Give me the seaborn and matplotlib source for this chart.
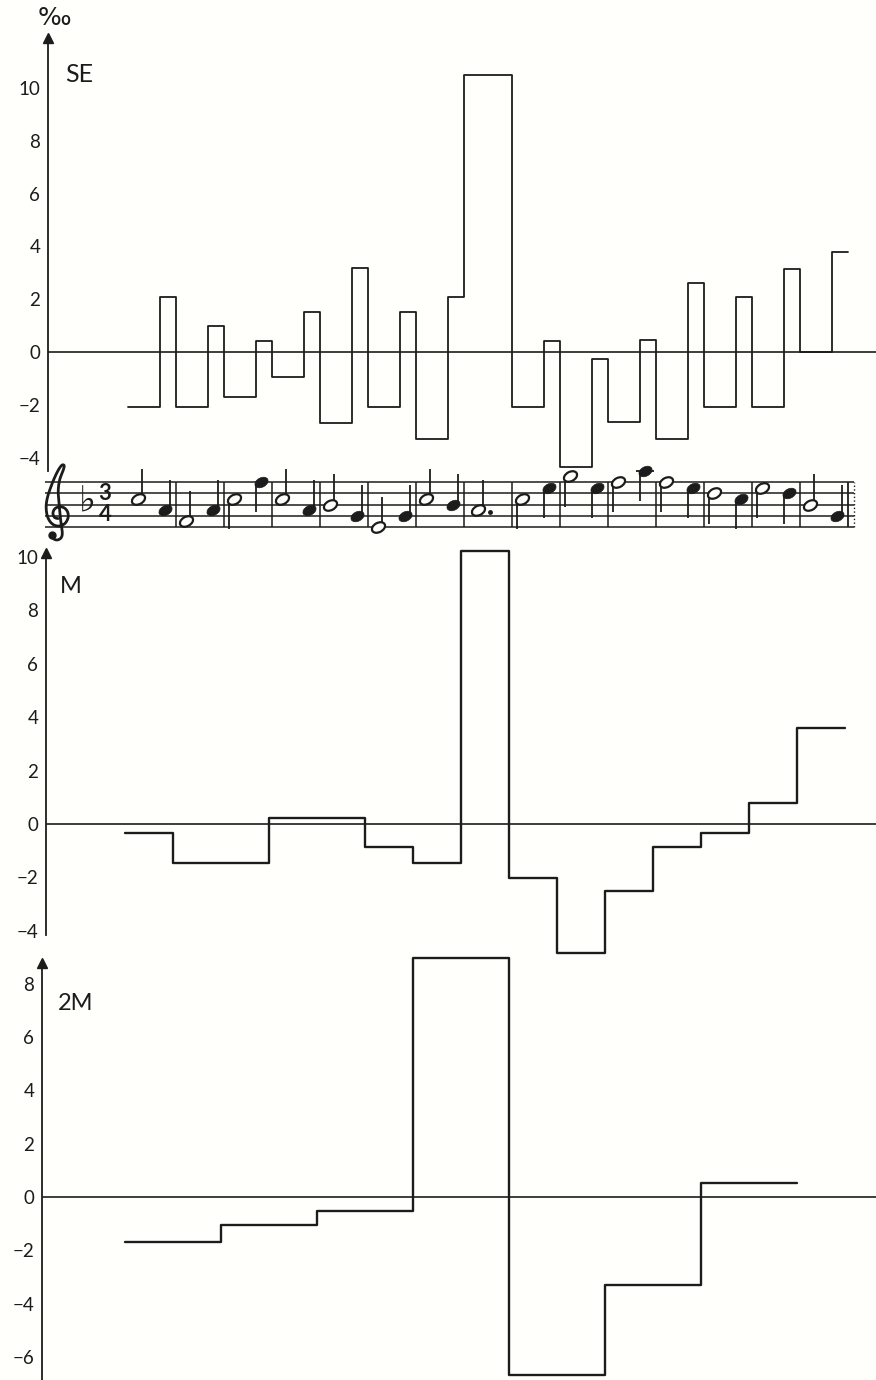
import numpy as np
import pandas as pd
import matplotlib
matplotlib.use("Agg")
import matplotlib.pyplot as plt
import seaborn as sns
from matplotlib.path import Path
from matplotlib.transforms import Affine2D

# Mélodie (3/4, un bémol) : pas de portée 0 = Mi4 (ligne du bas), durées en temps
NOTE_STEPS = [5, 3, 1, 3, 5, 8, 5, 3, 4, 2, 0, 2, 5, 4, 3,
              5, 7, 9, 7, 8, 10, 8, 7, 6, 5, 7, 6, 4, 2]
NOTE_BEATS = [2, 1, 2, 1, 2, 1, 2, 1, 2, 1, 2, 1, 2, 1, 3,
              2, 1, 2, 1, 2, 1, 2, 1, 2, 1, 2, 1, 2, 1]
STEM_UP = [1, 1, 1, 1, 0, 0, 1, 1, 1, 1, 1, 1, 1, 1, 1,
           0, 0, 0, 0, 0, 0, 0, 0, 0, 0, 0, 0, 1, 1]

# Valeurs en pour mille
SE_VALUES = [-2.1, 2.1, -2.1, 1.0, -1.7, 0.4, -0.95, 1.5, -2.7, 3.2, -2.1, 1.5, -3.3, 2.1,
             10.5, -2.1, 0.4, -4.35, -0.25, -2.65, 0.45, -3.3, 2.6, -2.1, 2.1, -2.1, 3.15, 0.0, 3.8]
M_VALUES = [-0.35, -1.45, -1.45, 0.22, 0.22, -0.85, -1.45, 10.22,
            -2.02, -4.83, -2.5, -0.85, -0.35, 0.8, 3.6]
M2_VALUES = [-1.7, -1.05, -0.53, 8.97, -6.68, -3.3, 0.53]

SE_TICKS = [-4, -2, 0, 2, 4, 6, 8, 10]
M_TICKS = [-4, -2, 0, 2, 4, 6, 8, 10]
M2_TICKS = [-6, -4, -2, 0, 2, 4, 6, 8]
BEATS_PER_BAR = 3

# clé de sol (aucune police installée n'a le glyphe) : tracé en interlignes, 0 = ligne de sol
CLEF_X = [-0.55, -0.4, -0.05, 0.28, 0.38, 0.25, 0.1, 0.02, 0.15, 0.45, 0.55, 0.35, 0.05,
          -0.3, -0.62, -0.92, -1.05, -0.98, -0.72, -0.3, 0.2, 0.65, 0.9, 0.85, 0.55,
          0.1, -0.3, -0.45, -0.3, 0.0]
CLEF_Y = [-1.75, -2.05, -2.15, -1.95, -1.5, -0.5, 1.0, 2.2, 3.2, 4.0, 4.45, 4.5, 4.1,
          3.4, 2.6, 1.7, 0.9, 0.1, -0.5, -0.85, -0.9, -0.65, -0.15, 0.35, 0.7,
          0.8, 0.6, 0.2, -0.15, -0.25]

INK = "#1c1c1c"
PAPER = "#fffffb"
W, H = 876, 1380

sns.set_theme(style="white")
plt.rcParams["font.family"] = ["Lato", "DejaVu Sans"]

fig = plt.figure(figsize=(W / 100, H / 100), dpi=100, facecolor=PAPER)


def px_axes(left, top, right, bottom):
    ax = fig.add_axes([left / W, 1 - bottom / H, (right - left) / W, (bottom - top) / H])
    ax.set_facecolor("none")
    return ax


def fig_text(x, y, s, **kw):
    fig.text(x / W, 1 - y / H, s, color=INK, **kw)


def smooth(px, py, n=8):
    # spline de Catmull-Rom pour adoucir le tracé de la clé
    p = np.column_stack([px, py])
    p = np.vstack([p[0], p, p[-1]])
    t = np.linspace(0, 1, n, endpoint=False)[:, None]
    out = []
    for i in range(1, len(p) - 2):
        p0, p1, p2, p3 = p[i - 1], p[i], p[i + 1], p[i + 2]
        out.append(0.5 * ((2 * p1) + (-p0 + p2) * t + (2 * p0 - 5 * p1 + 4 * p2 - p3) * t ** 2
                          + (-p0 + 3 * p1 - 3 * p2 + p3) * t ** 3))
    out.append(p[-2][None, :])
    out = np.vstack(out)
    return out[:, 0], out[:, 1]


def style_panel(ax, ticks):
    for side in ["top", "right", "bottom"]:
        ax.spines[side].set_visible(False)
    ax.spines["left"].set_color(INK)
    ax.spines["left"].set_linewidth(1.3)
    ax.set_xticks([])
    ax.set_yticks(ticks)
    ax.set_yticklabels([str(t).replace("-", "\u2212") for t in ticks])
    ax.tick_params(axis="y", direction="inout", length=9, width=1.2, pad=1,
                   labelsize=13.5, colors=INK)
    ax.axhline(0, color=INK, lw=1.2, zorder=1)
    ax.plot([0], [1], marker="^", ms=7, color=INK, transform=ax.transAxes, clip_on=False)
    ax.set_xlabel("")
    ax.set_ylabel("")


# --- SE : une marche par note ---
note_starts = np.concatenate([[0], np.cumsum(NOTE_BEATS)[:-1]])
se_df = pd.DataFrame({"x": list(note_starts) + [sum(NOTE_BEATS)],
                      "y": SE_VALUES + [SE_VALUES[-1]]})
ax_se = px_axes(48, 38, W, 471)
sns.lineplot(data=se_df, x="x", y="y", drawstyle="steps-post", estimator=None, sort=False,
             color=INK, lw=1.3, ax=ax_se, clip_on=False)
ax_se.set_xlim((48 - 128) / 16, (W - 128) / 16)
ax_se.set_ylim((352 - 471) / 26.4, (352 - 38) / 26.4)
style_panel(ax_se, SE_TICKS)

# --- M : une marche par mesure ---
bar_starts = np.arange(len(M_VALUES)) * BEATS_PER_BAR
m_df = pd.DataFrame({"x": list(bar_starts) + [len(M_VALUES) * BEATS_PER_BAR],
                     "y": M_VALUES + [M_VALUES[-1]]})
ax_m = px_axes(46, 553, W, 935)
sns.lineplot(data=m_df, x="x", y="y", drawstyle="steps-post", estimator=None, sort=False,
             color=INK, lw=1.7, ax=ax_m, clip_on=False)
ax_m.set_xlim((46 - 125) / 16, (W - 125) / 16)
ax_m.set_ylim((824 - 935) / 26.7, (824 - 553) / 26.7)
style_panel(ax_m, M_TICKS)

# --- 2M : une marche par paire de mesures ---
pair_starts = np.arange(len(M2_VALUES)) * 2 * BEATS_PER_BAR
m2_df = pd.DataFrame({"x": list(pair_starts) + [len(M2_VALUES) * 2 * BEATS_PER_BAR],
                      "y": M2_VALUES + [M2_VALUES[-1]]})
ax_2m = px_axes(42, 963, W, H)
sns.lineplot(data=m2_df, x="x", y="y", drawstyle="steps-post", estimator=None, sort=False,
             color=INK, lw=1.7, ax=ax_2m, clip_on=False)
ax_2m.set_xlim((42 - 125) / 16, (W - 125) / 16)
ax_2m.set_ylim((1197 - H) / 26.64, (1197 - 963) / 26.64)
style_panel(ax_2m, M2_TICKS)

# --- portée ---
ax_st = px_axes(40, 460, W, 548)
ax_st.set_xlim((40 - 128) / 16, (W - 128) / 16)
ax_st.set_ylim((527 - 548) / 5.625, (527 - 460) / 5.625)
ax_st.axis("off")

total = sum(NOTE_BEATS)
ax_st.hlines([0, 2, 4, 6, 8], (45 - 128) / 16, total + 0.4, color=INK, lw=1.1)
bar_lines = np.arange(BEATS_PER_BAR, total, BEATS_PER_BAR)
ax_st.vlines(bar_lines, 0, 8, color=INK, lw=1.1)
ax_st.vlines([total], 0, 8, color=INK, lw=1.3)
ax_st.vlines([total + 0.35], 0, 8, color=INK, lw=1.0, linestyles=":")

head_x = note_starts + 0.3 * np.array(NOTE_BEATS)
steps = np.array(NOTE_STEPS)
is_open = np.array(NOTE_BEATS) >= 2
head = Path.unit_circle().transformed(Affine2D().scale(1.35, 0.9).rotate_deg(28))

notes = pd.DataFrame({"x": head_x, "y": steps, "open": is_open})
sns.scatterplot(data=notes[notes.open], x="x", y="y", marker=head, s=95, color=PAPER,
                edgecolor=INK, linewidth=1.6, ax=ax_st, zorder=4, legend=False)
sns.scatterplot(data=notes[~notes.open], x="x", y="y", marker=head, s=95, color=INK,
                edgecolor=INK, linewidth=0.5, ax=ax_st, zorder=4, legend=False)

up = np.array(STEM_UP) == 1
ax_st.vlines(head_x[up] + 0.3, steps[up] + 0.2, steps[up] + 5.4, color=INK, lw=1.3, zorder=3)
ax_st.vlines(head_x[~up] - 0.3, steps[~up] - 0.2, steps[~up] - 5.4, color=INK, lw=1.3, zorder=3)

# point de la blanche pointée et ligne supplémentaire du La aigu
dotted = np.array(NOTE_BEATS) == 3
ax_st.plot(head_x[dotted] + 0.7, steps[dotted] - 0.3, "o", ms=2.5, color=INK)
ledger = steps >= 10
ax_st.hlines(steps[ledger], head_x[ledger] - 0.55, head_x[ledger] + 0.55, color=INK, lw=1.3)

# clé de sol, armure et chiffrage
clef_cx = (58 - 128) / 16
cx, cy = smooth(CLEF_X, CLEF_Y)
ax_st.plot(clef_cx + cx * 11.25 / 16, 2 + 2 * cy, color=INK, lw=2.0, solid_capstyle="round")
ax_st.plot([clef_cx + CLEF_X[0] * 11.25 / 16], [2 + 2 * CLEF_Y[0]], "o", ms=5, color=INK)

ax_st.text((87 - 128) / 16, 4.6, "\u266D", fontsize=26, ha="center", va="center",
           color=INK, family=["DejaVu Sans"])
ax_st.text((105 - 128) / 16, 6.0, "3", fontsize=16, ha="center", va="center",
           color=INK, fontweight="bold")
ax_st.text((105 - 128) / 16, 2.3, "4", fontsize=16, ha="center", va="center",
           color=INK, fontweight="bold")

# étiquettes
fig_text(54, 18, "\u2030", fontsize=18, ha="center", va="center", family=["DejaVu Sans"])
fig_text(65, 74, "SE", fontsize=18, ha="left", va="center")
fig_text(60, 586, "M", fontsize=17, ha="left", va="center")
fig_text(58, 1003, "2M", fontsize=17, ha="left", va="center")

fig.savefig("out.png", dpi=100, facecolor=PAPER)
